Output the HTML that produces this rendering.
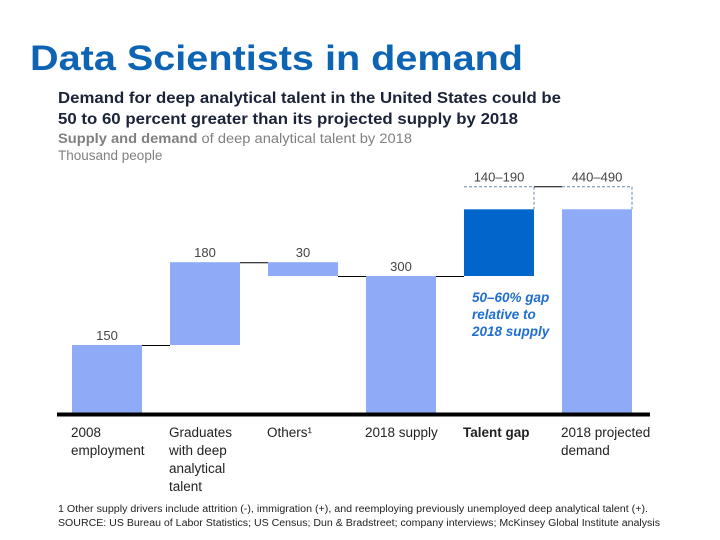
<!DOCTYPE html>
<html><head><meta charset="utf-8"><style>
html,body{margin:0;padding:0;background:#fff;}
svg{display:block;font-family:"Liberation Sans",Arial,sans-serif;}
</style></head><body>
<svg id="c" width="720" height="540" viewBox="0 0 720 540">
<text x="30" y="70" font-size="35" font-weight="bold" fill="#0e64b4" textLength="493" lengthAdjust="spacingAndGlyphs">Data Scientists in demand</text>
<text x="58" y="103" font-size="16" font-weight="bold" fill="#1a2338" textLength="503" lengthAdjust="spacingAndGlyphs">Demand for deep analytical talent in the United States could be</text>
<text x="58" y="124" font-size="16" font-weight="bold" fill="#1a2338" textLength="460" lengthAdjust="spacingAndGlyphs">50 to 60 percent greater than its projected supply by 2018</text>
<text x="58" y="143" font-size="13.5" fill="#808080" textLength="354" lengthAdjust="spacingAndGlyphs"><tspan font-weight="bold">Supply and demand</tspan> of deep analytical talent by 2018</text>
<text x="58" y="160" font-size="13.5" fill="#808080">Thousand people</text>
<g id="bars"></g>
<line x1="57" y1="414.5" x2="650" y2="414.5" stroke="#000" stroke-width="4"/>
<g font-size="13.5" fill="#222" id="cats"></g>
<text font-size="13.5" font-weight="bold" font-style="italic" fill="#1f6fd0">
<tspan x="472" y="302">50–60% gap</tspan><tspan x="472" y="319">relative to</tspan><tspan x="472" y="336">2018 supply</tspan></text>
<text x="58" y="512" font-size="10" fill="#222" textLength="590" lengthAdjust="spacingAndGlyphs">1  Other supply drivers include attrition (-), immigration (+), and reemploying previously unemployed deep analytical talent (+).</text>
<text x="58" y="526" font-size="10" fill="#222" textLength="602" lengthAdjust="spacingAndGlyphs">SOURCE: US Bureau of Labor Statistics; US Census; Dun &amp; Bradstreet; company interviews; McKinsey Global Institute analysis</text>
</svg>
<script>
const categories=[["2008","employment"],["Graduates","with deep","analytical","talent"],["Others¹"],["2018 supply"],["Talent gap"],["2018 projected","demand"]];
const deltas=[150,180,-30,300,145,445];
const kinds=["total","step","step","total","gap","total"];
const valueLabels=["150","180","30","300","140–190","440–490"];
const NS="http://www.w3.org/2000/svg";
const y0=414, k=0.46, x0=72, step=98, bw=70;
const y=v=>y0-v*k, xl=i=>x0+i*step;
function mk(t,a,p){const e=document.createElementNS(NS,t);for(const q in a)e.setAttribute(q,a[q]);p.appendChild(e);return e;}
const g=document.getElementById('bars'), cg=document.getElementById('cats');
let run=0; const tops=[];
deltas.forEach((d,i)=>{
  let lo,hi;
  if(kinds[i]==="total"){lo=0;hi=d;run=d;}
  else if(kinds[i]==="gap"){lo=run;hi=run+d;}
  else{lo=Math.min(run,run+d);hi=Math.max(run,run+d);run+=d;}
  tops.push(hi);
  const r=mk('rect',{x:xl(i),y:y(hi),width:bw,height:y(lo)-y(hi),fill:kinds[i]==="gap"?"#0066cc":"#8fabf8"},g);
  
  
  const end=kinds[i]==="step"?run:hi;
  if(i<deltas.length-1&&i<4){
    const l=mk('line',{x1:xl(i)+bw,x2:xl(i+1),y1:y(end)+0.5,y2:y(end)+0.5,stroke:"#000","stroke-width":1},g);
    
    
  }
  let ly=y(hi)-5;
  if(i>=4) ly=y(hi)-28;
  const t=mk('text',{x:xl(i)+bw/2,y:ly,"text-anchor":"middle","font-size":13,fill:"#444"},g);
  t.textContent=valueLabels[i];
  
  
  categories[i].forEach((s,j)=>{
    const c=mk('text',{x:xl(i)-1,y:437+j*18},cg);
    if(kinds[i]==="gap")c.setAttribute('font-weight','bold');
    c.textContent=s;
    
    
  });
});
// range bracket for gap and demand
const by=y(tops[5])-22.5;
const dash={stroke:"#6a8aa8","stroke-width":1,"stroke-dasharray":"3,2",fill:"none"};
const p1=mk('path',Object.assign({d:`M${xl(4)} ${by} H${xl(4)+bw} V${y(tops[4])}`},dash),g);


const p2=mk('path',Object.assign({d:`M${xl(5)} ${by} H${xl(5)+bw} V${y(tops[5])}`},dash),g);


const l2=mk('line',{x1:xl(4)+bw,x2:xl(5),y1:by,y2:by,stroke:"#000","stroke-width":1},g);


</script>
</body></html>
